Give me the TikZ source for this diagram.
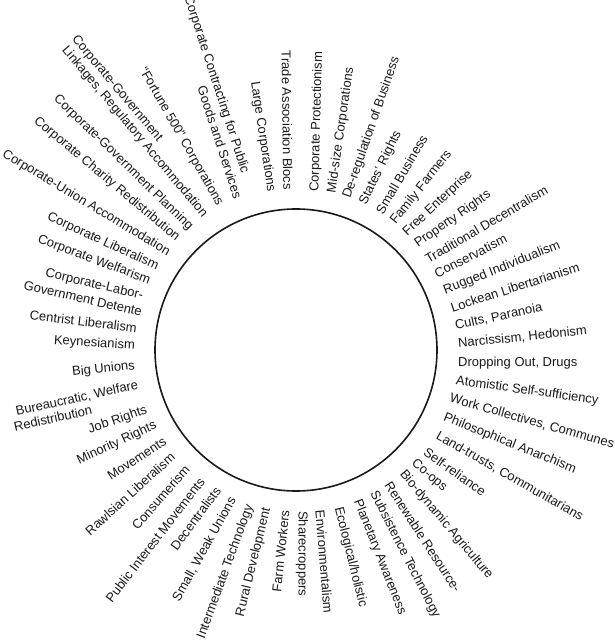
\documentclass[tikz,border=0pt]{standalone}
\usepackage{fontspec}
\setmainfont{Liberation Sans}
\definecolor{ink}{HTML}{1A1A1A}
\newcommand\radR[5]{\node[lab,anchor=west,rotate=#4] (#1) at (#2,643-#3) {#5};}
\newcommand\radL[5]{\node[lab,anchor=east,rotate=#4] (#1) at (#2,643-#3) {#5};}
\begin{document}
\begin{tikzpicture}[x=1pt,y=1pt,
  lab/.style={inner sep=0pt,text=ink,font=\fontsize{13}{15}\selectfont},
  ring/.style={circle,draw=ink,line width=1.6pt,minimum size=282pt,inner sep=0pt}]
\useasboundingbox[fill=white] (0,0) rectangle (615,643);
\node[ring] (circ) at (296,643-350) {};
% right half: text starts near circle
\radR{r01}{315}{192}{88.5}{Corporate Protectionism}
\radR{r02}{332}{193}{81.8}{Mid-size Corporations}
\radR{r03}{347}{198}{70.8}{De-regulation of Business}
\radR{r04}{363}{204}{64}{States’ Rights}
\radR{r05}{379}{213}{59.6}{Small Business}
\radR{r06}{393}{223}{51.5}{Family Farmers}
\radR{r07}{405}{234}{43}{Free Enterprise}
\radR{r08}{416}{245}{35}{Property Rights}
\radR{r09}{426}{260}{30.5}{Traditional Decentralism}
\radR{r10}{435}{274}{27}{Conservatism}
\radR{r11}{444}{291}{21.5}{Rugged Individualism}
\radR{r12}{451}{308}{18}{Lockean Libertarianism}
\radR{r13}{455}{326}{12}{Cults, Paranoia}
\radR{r14}{458}{344}{6}{Narcissism, Hedonism}
\radR{r15}{458}{363}{0}{Dropping Out, Drugs}
\radR{r16}{456}{381}{-8}{Atomistic Self-sufficiency}
\radR{r17}{450}{398}{-16}{Work Collectives, Communes}
\radR{r18}{444}{417}{-22}{Philosophical Anarchism}
\radR{r19}{437}{435}{-29.6}{Land-trusts, Communitarians}
\radR{r20}{425}{451}{-35}{Self-reliance}
\radR{r21}{413}{462}{-40}{Co-ops}
\radR{r22}{402}{472}{-50}{Bio-dynamic Agriculture}
\radR{r23}{388}{483}{-57}{Renewable Resource-}
\radR{r24}{373}{492}{-63}{Subsistence Technology}
\radR{r25}{357}{500}{-68.3}{Planetary Awareness}
\radR{r26}{338}{507}{-76}{Ecological/holistic}
\radR{r27}{320}{510}{-85.3}{Environmentalism}
\radR{r28}{302}{511}{-90}{Sharecroppers}
% left half: text ends near circle
\radL{l01}{285}{510}{84}{Farm Workers}
\radL{l02}{267}{508}{76.2}{Rural Development}
\radL{l03}{250}{505}{69.9}{Intermediate Technology}
\radL{l04}{233}{498}{60.9}{Small, Weak Unions}
\radL{l05}{218}{488}{53.6}{Decentralists}
\radL{l06}{202}{479}{52.4}{Public Interest Movements}
\radL{l07}{187}{467}{49.1}{Consumerism}
\radL{l08}{173}{455}{42.2}{Rawlsian Liberalism}
\radL{l09}{165}{440}{33.3}{Movements}
\radL{l10}{156}{425}{25.1}{Minority Rights}
\radL{l11}{147}{410}{18.9}{Job Rights}
\radL{l12}{138}{385}{12.5}{Bureaucratic, Welfare}
\node[lab,anchor=west,rotate=12.5] (l12b) at (14,643-427) {Redistribution};
\radL{l13}{135}{366}{6}{Big Unions}
\radL{l14}{135}{346}{-3.5}{Keynesianism}
\radL{l15}{137}{328}{-6.8}{Centrist Liberalism}
\radL{l16}{142}{312}{-13}{Government Detente}
\radL{l17}{143}{296}{-13}{Corporate-Labor-}
\radL{l18}{150}{281}{-20.4}{Corporate Welfarism}
\radL{l19}{158}{267}{-24.5}{Corporate Liberalism}
\radL{l20}{169}{253}{-31}{Corporate-Union Accommodation}
\radL{l21}{178}{239}{-40}{Corporate Charity Redistribution}
\radL{l22}{191}{228}{-44}{Corporate-Government Planning}
\radL{l23}{205}{216}{-50}{Linkages, Regulatory Accommodation}
\radL{l24}{160}{140}{-50}{Corporate-Government}
\radL{l25}{220}{205}{-60.3}{“Fortune 500” Corporations}
\radL{l26}{238}{198}{-72}{Goods and Services}
\radL{l27}{245}{173}{-72}{Corporate Contracting for Public}
\radL{l28}{271}{192}{-81.4}{Large Corporations}
\radL{l29}{288}{190}{-89.3}{Trade Association Blocs}
\end{tikzpicture}
\end{document}
